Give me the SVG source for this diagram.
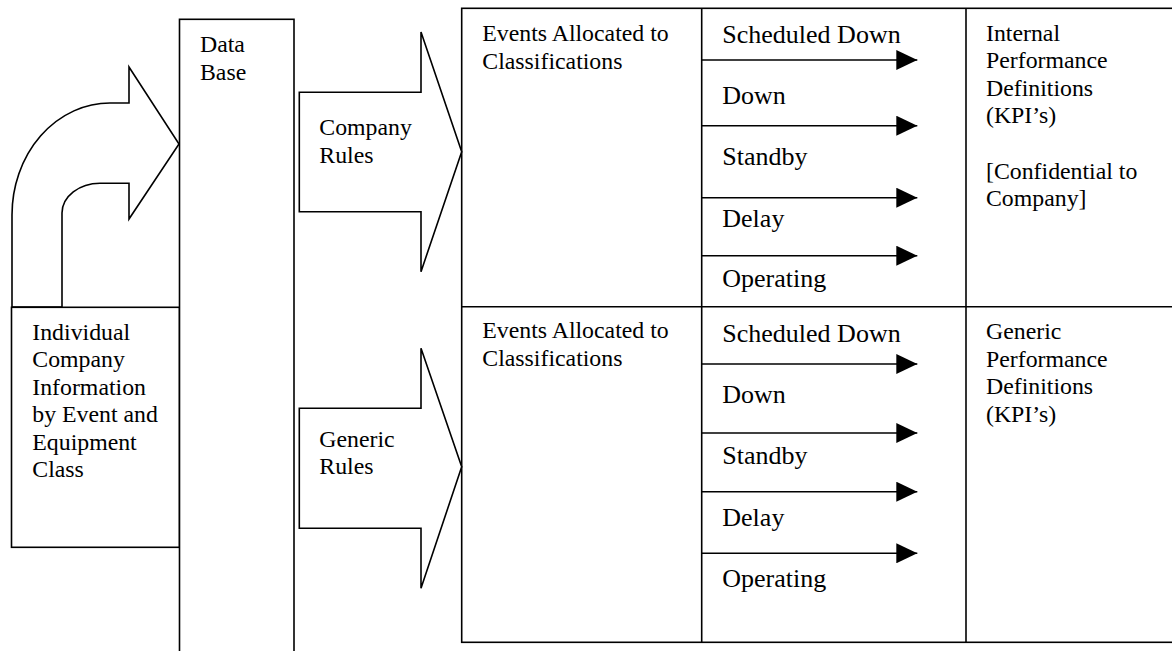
<svg xmlns="http://www.w3.org/2000/svg" width="1172" height="651" viewBox="0 0 1172 651">
<style>
.s{fill:#fff;stroke:#000;stroke-width:1.6}
.l{fill:none;stroke:#000;stroke-width:1.6}
text{font-family:"Liberation Serif","Times New Roman",serif;fill:#000}
.t{font-size:23.8px}
.b{font-size:26px}
</style>
<defs>
<marker id="ah" markerWidth="22" markerHeight="20" refX="21" refY="10" orient="auto" markerUnits="userSpaceOnUse">
<path d="M0,0 L21,10 L0,20 Z" fill="#000"/>
</marker>
</defs>
<rect width="1172" height="651" fill="#fff"/>

<g id="table">
<rect class="s" x="461.7" y="8.3" width="730" height="634"/>
<line class="l" x1="461.7" y1="306.7" x2="1180" y2="306.7"/>
<line class="l" x1="701.7" y1="8.3" x2="701.7" y2="642.3"/>
<line class="l" x1="966" y1="8.3" x2="966" y2="642.3"/>
</g>

<g id="curved-arrow">
<path class="s" d="M12,307 L12,215 A98,112 0 0 1 110,103 L129,103 L129,67 L179,144 L129,219 L129,183.3 L100,183.3 A38,30 0 0 0 62,213 L62,307 Z"/>
</g>

<g id="individual">
<rect class="s" x="11.5" y="307.3" width="168" height="240"/>
<text class="t" x="32.3" y="340">Individual</text>
<text class="t" x="32.3" y="367.3">Company</text>
<text class="t" x="32.3" y="394.8">Information</text>
<text class="t" x="32.3" y="422.3">by Event and</text>
<text class="t" x="32.3" y="449.8">Equipment</text>
<text class="t" x="32.3" y="477.3">Class</text>
</g>

<g id="database">
<rect class="s" x="179.5" y="19.3" width="114.5" height="650"/>
<text class="t" x="200" y="52.3">Data</text>
<text class="t" x="200" y="79.8">Base</text>
</g>

<g id="company-rules">
<path class="s" d="M299.3,92.3 L421,92.3 L421,32 L461.7,151.7 L421,271.7 L421,211.7 L299.3,211.7 Z"/>
<text class="t" x="319.3" y="135">Company</text>
<text class="t" x="319.3" y="162.5">Rules</text>
</g>

<g id="generic-rules">
<path class="s" d="M299.3,408.3 L421,408.3 L421,348.3 L461.7,466.7 L421,588.3 L421,528.3 L299.3,528.3 Z"/>
<text class="t" x="319.3" y="446.7">Generic</text>
<text class="t" x="319.3" y="474.2">Rules</text>
</g>

<g id="events-top">
<text class="t" x="482.3" y="41">Events Allocated to</text>
<text class="t" x="482.3" y="68.5">Classifications</text>
</g>
<g id="events-bottom">
<text class="t" x="482.3" y="338.3">Events Allocated to</text>
<text class="t" x="482.3" y="365.8">Classifications</text>
</g>

<g id="states-top">
<text class="b" x="722.3" y="42.7">Scheduled Down</text>
<text class="b" x="722.3" y="104.3">Down</text>
<text class="b" x="722.3" y="165">Standby</text>
<text class="b" x="722.3" y="226.7">Delay</text>
<text class="b" x="722.3" y="286.7">Operating</text>
</g>
<g id="states-bottom">
<text class="b" x="722.3" y="341.7">Scheduled Down</text>
<text class="b" x="722.3" y="402.7">Down</text>
<text class="b" x="722.3" y="464">Standby</text>
<text class="b" x="722.3" y="526">Delay</text>
<text class="b" x="722.3" y="586.7">Operating</text>
</g>

<g id="connectors">
<line class="l" x1="701.7" y1="60" x2="917.3" y2="60" marker-end="url(#ah)"/>
<line class="l" x1="701.7" y1="125.7" x2="917.3" y2="125.7" marker-end="url(#ah)"/>
<line class="l" x1="701.7" y1="197.7" x2="917.3" y2="197.7" marker-end="url(#ah)"/>
<line class="l" x1="701.7" y1="255.7" x2="917.3" y2="255.7" marker-end="url(#ah)"/>
<line class="l" x1="701.7" y1="364" x2="917.3" y2="364" marker-end="url(#ah)"/>
<line class="l" x1="701.7" y1="433" x2="917.3" y2="433" marker-end="url(#ah)"/>
<line class="l" x1="701.7" y1="491.7" x2="917.3" y2="491.7" marker-end="url(#ah)"/>
<line class="l" x1="701.7" y1="553.3" x2="917.3" y2="553.3" marker-end="url(#ah)"/>
</g>

<g id="internal-kpi">
<text class="t" x="986" y="40.7">Internal</text>
<text class="t" x="986" y="68">Performance</text>
<text class="t" x="986" y="95.5">Definitions</text>
<text class="t" x="986" y="123">(KPI’s)</text>
<text class="t" x="986" y="178.5">[Confidential to</text>
<text class="t" x="986" y="206">Company]</text>
</g>
<g id="generic-kpi">
<text class="t" x="986" y="339.3">Generic</text>
<text class="t" x="986" y="366.8">Performance</text>
<text class="t" x="986" y="394.3">Definitions</text>
<text class="t" x="986" y="421.8">(KPI’s)</text>
</g>
</svg>
